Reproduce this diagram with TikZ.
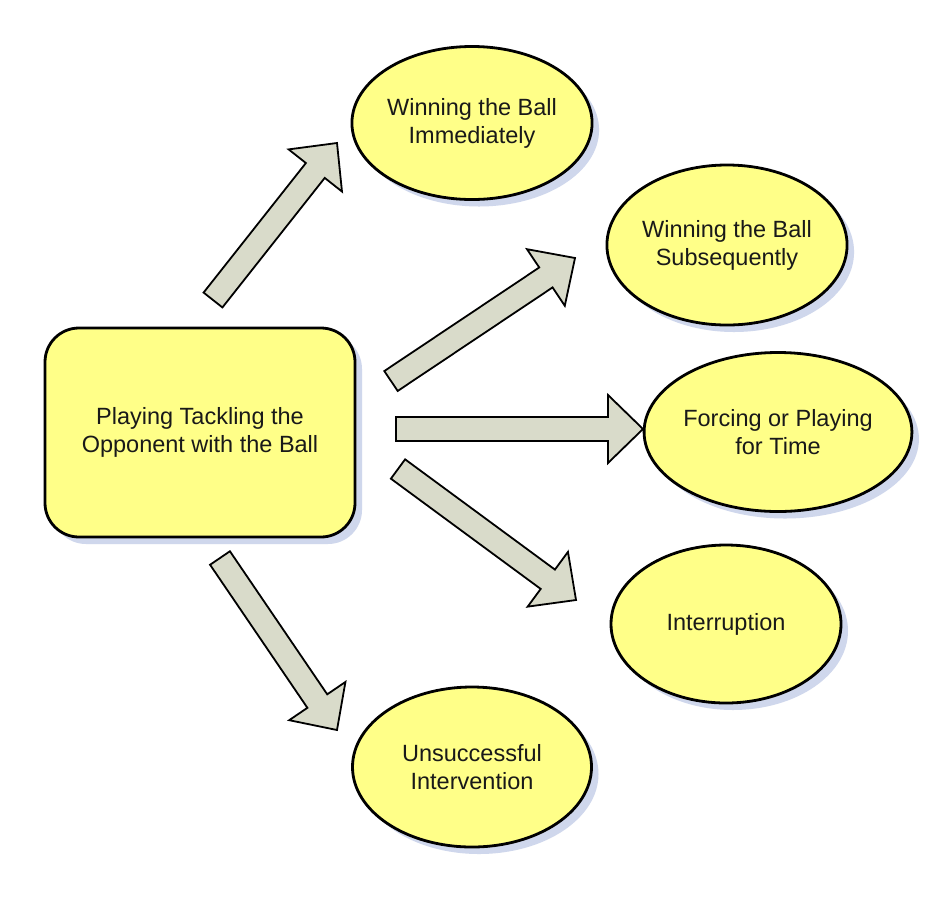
\documentclass[tikz,border=0pt]{standalone}
\usepackage{fontspec}
\setmainfont{Liberation Sans}
\usetikzlibrary{shapes.geometric,shadows,calc}
\definecolor{boxfill}{HTML}{FFFF88}
\definecolor{arrfill}{HTML}{D9DBCA}
\definecolor{shadowc}{HTML}{CFD7EC}
\newcommand{\mytxt}{\fontsize{23.5}{28}\selectfont}
\def\arrsw{12pt}
\def\arrhw{34pt}
\def\arrhl{35pt}
\newcommand{\myblockarrow}[2]{%
  \coordinate (#1-b) at ($(#2)!\arrhl!(#1)$);
  \draw[arrowshape] ($(#1)!\arrsw!90:(#2)$) -- ($(#1-b)!\arrsw!90:(#2)$)
    -- ($(#1-b)!\arrhw!90:(#2)$) -- (#2) -- ($(#1-b)!\arrhw!-90:(#2)$)
    -- ($(#1-b)!\arrsw!-90:(#2)$) -- ($(#1)!\arrsw!-90:(#2)$) -- cycle;}
\tikzset{
  shapebase/.style={draw=black, line width=2.8pt, fill=boxfill, align=center,
    inner sep=0pt, font=\mytxt, text=black!90,
    drop shadow={shadow xshift=7pt, shadow yshift=-7pt, fill=shadowc, opacity=1}},
  outcome/.style={shapebase, ellipse, minimum width=234pt, minimum height=158pt},
  mainbox/.style={shapebase, rectangle, rounded corners=34pt, minimum width=310pt, minimum height=209pt},
  arrowshape/.style={draw=black, line width=1.8pt, fill=arrfill, line join=miter}
}
\begin{document}
\begin{tikzpicture}[x=1pt, y=-1pt]
\useasboundingbox (0,0) rectangle (947,903);
\fill[white] (0,0) rectangle (947,903);
\node[mainbox] (main) at (200,432.5) {Playing Tackling the\\Opponent with the Ball};
\node[outcome, minimum width=229pt, minimum height=153pt] (imm) at (472,123) {Winning the Ball\\Immediately};
\node[outcome, minimum width=240pt, minimum height=160pt] (sub) at (727,245) {Winning the Ball\\Subsequently};
\node[outcome, minimum width=237pt, minimum height=159pt] (force) at (778,432) {Forcing or Playing\\for Time};
\node[outcome, minimum width=230pt, minimum height=158pt] (intr) at (726,624) {Interruption};
\node[outcome, minimum width=239pt, minimum height=160pt] (uns) at (472,767) {Unsuccessful\\Intervention};
% arrow ends
\coordinate (a1s) at (213,300); \coordinate (a1e) at (337,143);
\coordinate (a2s) at (391,381); \coordinate (a2e) at (575,258);
\coordinate (a3s) at (396,429); \coordinate (a3e) at (643,429);
\coordinate (a4s) at (398,469); \coordinate (a4e) at (576,600);
\coordinate (a5s) at (220,558); \coordinate (a5e) at (337,730);
\myblockarrow{a1s}{a1e}
\myblockarrow{a2s}{a2e}
\myblockarrow{a3s}{a3e}
\myblockarrow{a4s}{a4e}
\myblockarrow{a5s}{a5e}
\end{tikzpicture}
\end{document}
